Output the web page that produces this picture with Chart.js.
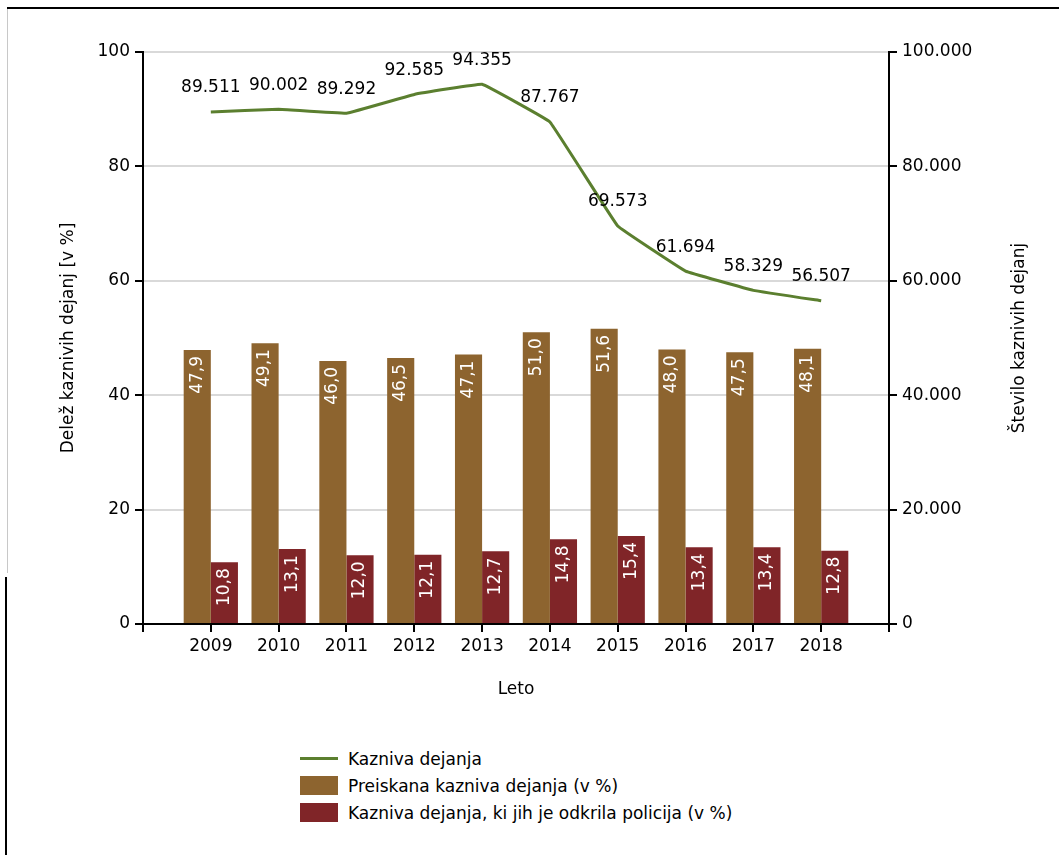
<!DOCTYPE html>
<html>
<head>
<meta charset="utf-8">
<title>Kazniva dejanja</title>
<script src="https://cdn.jsdelivr.net/npm/chart.js@4.4.1/dist/chart.umd.min.js"></script>
<style>
  body { margin: 0; background: #fff; font-family: "DejaVu Sans", sans-serif; }
  #okvir { position: relative; width: 1059px; height: 855px; overflow: hidden; }
  #graf { position: absolute; left: 0; top: 0; }
  .crta-zgoraj { position: absolute; left: 7px; right: 0; top: 7px; height: 2px; background: #000; }
  .crta-levo { position: absolute; left: 7px; top: 9px; width: 1px; height: 564px; background: #c8c8c8; }
  .crta-levo2 { position: absolute; left: 5px; top: 577px; bottom: 0; width: 2px; background: #000; }
  #legenda { position: absolute; left: 300px; top: 745px; font-size: 17px; color: #000; }
  .vrstica { height: 27px; display: flex; align-items: center; }
  .znak { width: 38px; margin-right: 10px; }
</style>
</head>
<body>
<div id="okvir">
  <div class="crta-zgoraj"></div>
  <div class="crta-levo"></div>
  <div class="crta-levo2"></div>
  <canvas id="graf" width="1059" height="720"></canvas>
  <div id="legenda"></div>
</div>
<script>
// --- podatki ---
const leta = ['2009', '2010', '2011', '2012', '2013', '2014', '2015', '2016', '2017', '2018'];
const kaznivaDejanja = [89511, 90002, 89292, 92585, 94355, 87767, 69573, 61694, 58329, 56507];
const preiskana = [47.9, 49.1, 46.0, 46.5, 47.1, 51.0, 51.6, 48.0, 47.5, 48.1];
const odkrilaPolicija = [10.8, 13.1, 12.0, 12.1, 12.7, 14.8, 15.4, 13.4, 13.4, 12.8];
const tickiLevo = [0, 20, 40, 60, 80, 100];
const tickiDesno = [0, 20000, 40000, 60000, 80000, 100000];

const ZELENA = '#5b7f2f';
const RJAVA = '#8d642f';
const RDECA = '#802528';

Chart.defaults.font.family = '"DejaVu Sans", sans-serif';
Chart.defaults.font.size = 17;
Chart.defaults.color = '#000';

function tisocice(v) {
    return String(v).replace(/\B(?=(\d{3})+(?!\d))/g, '.');
}

// prazna mesta na robovih, da je prvo in zadnje leto odmaknjeno od osi
const oznakeX = [''].concat(leta, ['']);
const zOdmikom = arr => [null].concat(arr, [null]);

// napisi na stolpcih in na crti + naslov desne osi
const napisi = {
    id: 'napisi',
    afterDatasetsDraw(chart) {
        const ctx = chart.ctx;
        ctx.save();
        ctx.font = '17px "DejaVu Sans", sans-serif';
        chart.data.datasets.forEach((ds, i) => {
            const meta = chart.getDatasetMeta(i);
            meta.data.forEach((el, j) => {
                const v = ds.data[j];
                if (v == null) return;
                if (ds.type === 'line') {
                    ctx.fillStyle = '#000';
                    ctx.textAlign = 'center';
                    ctx.textBaseline = 'middle';
                    ctx.fillText(tisocice(v), el.x, el.y - 24);
                } else {
                    ctx.save();
                    ctx.translate(el.x, el.y + 6);
                    ctx.rotate(-Math.PI / 2);
                    ctx.fillStyle = '#fff';
                    ctx.textAlign = 'right';
                    ctx.textBaseline = 'middle';
                    ctx.fillText(v.toFixed(1).replace('.', ','), 0, 0);
                    ctx.restore();
                }
            });
        });
        const a = chart.chartArea;
        ctx.translate(1020, (a.top + a.bottom) / 2);
        ctx.rotate(-Math.PI / 2);
        ctx.fillStyle = '#000';
        ctx.textAlign = 'center';
        ctx.textBaseline = 'middle';
        ctx.fillText('Število kaznivih dejanj', 0, 0);
        ctx.restore();
    }
};

const graf = new Chart(document.getElementById('graf'), {
    data: {
        labels: oznakeX,
        datasets: [
            {
                type: 'line',
                label: 'Kazniva dejanja',
                data: zOdmikom(kaznivaDejanja),
                yAxisID: 'y1',
                borderColor: ZELENA,
                backgroundColor: ZELENA,
                borderWidth: 3,
                pointRadius: 0,
                tension: 0.05
            },
            {
                type: 'bar',
                label: 'Preiskana kazniva dejanja (v %)',
                data: zOdmikom(preiskana),
                yAxisID: 'y',
                backgroundColor: RJAVA,
                categoryPercentage: 0.8,
                barPercentage: 1
            },
            {
                type: 'bar',
                label: 'Kazniva dejanja, ki jih je odkrila policija (v %)',
                data: zOdmikom(odkrilaPolicija),
                yAxisID: 'y',
                backgroundColor: RDECA,
                categoryPercentage: 0.8,
                barPercentage: 1
            }
        ]
    },
    options: {
        responsive: false,
        animation: false,
        layout: { padding: { left: 54, right: 25, top: 52, bottom: 16 } },
        plugins: { legend: { display: false }, tooltip: { enabled: false } },
        scales: {
            x: {
                offset: false,
                grid: { offset: false, drawOnChartArea: false, tickColor: '#000', tickLength: 8, lineWidth: 2 },
                border: { color: '#000', width: 2 },
                ticks: { maxRotation: 0, autoSkip: false, padding: 4 },
                title: { display: true, text: 'Leto' },
                afterFit: s => { s.height = 80; }
            },
            y: {
                position: 'left',
                min: 0, max: 100,
                afterBuildTicks: s => { s.ticks = tickiLevo.map(v => ({ value: v })); },
                grid: { color: '#d9d9d9', lineWidth: 2, tickColor: '#000', tickLength: 8 },
                border: { color: '#000', width: 2 },
                ticks: { padding: 5 },
                title: { display: true, text: 'Delež kaznivih dejanj [v %]' },
                afterFit: s => { s.width = 89; }
            },
            y1: {
                position: 'right',
                min: 0, max: 100000,
                afterBuildTicks: s => { s.ticks = tickiDesno.map(v => ({ value: v })); },
                grid: { drawOnChartArea: false, tickColor: '#000', tickLength: 8, lineWidth: 2 },
                border: { color: '#000', width: 2 },
                ticks: { padding: 5, callback: v => tisocice(v) },
                afterFit: s => { s.width = 145; }
            }
        }
    },
    plugins: [napisi]
});

// legenda pod grafom
const legenda = document.getElementById('legenda');
graf.data.datasets.forEach(ds => {
    const vrstica = document.createElement('div');
    vrstica.className = 'vrstica';
    const znak = ds.type === 'line'
        ? `<span class="znak" style="height:3px;background:${ds.borderColor}"></span>`
        : `<span class="znak" style="height:19px;background:${ds.backgroundColor}"></span>`;
    vrstica.innerHTML = `${znak}<span>${ds.label}</span>`;
    legenda.appendChild(vrstica);
});
</script>
</body>
</html>
